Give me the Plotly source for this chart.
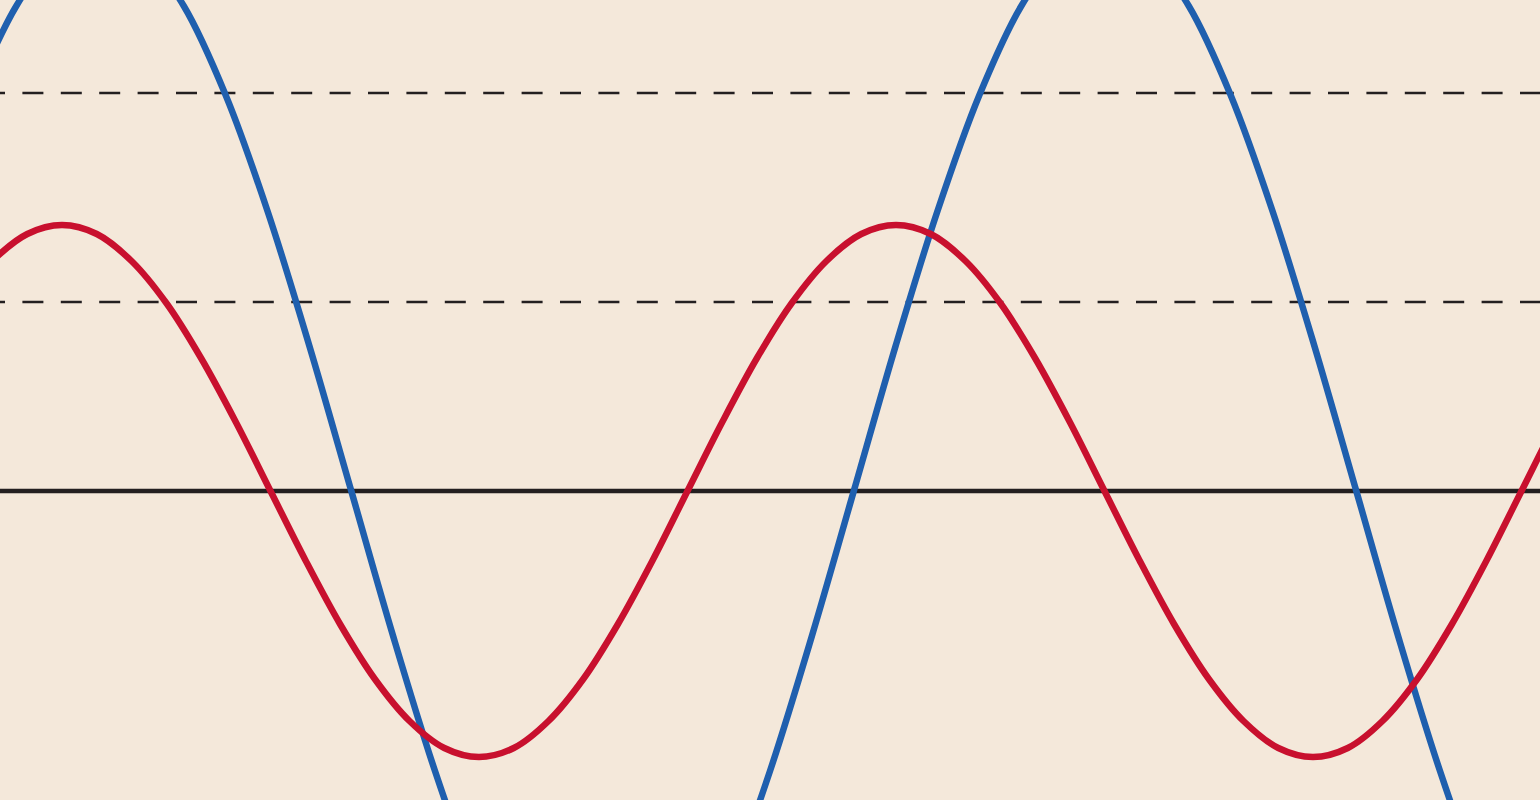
import plotly.graph_objects as go

# Values (x in hundreds of px, y relative to the zero line)
red_x = [-0.770, -0.423, -0.075, 0.273, 0.620, 0.968, 1.315, 1.663, 2.010, 2.358, 2.705,
         3.053, 3.400, 3.748, 4.095, 4.443, 4.790, 5.138, 5.485, 5.833, 6.180, 6.528,
         6.875, 7.223, 7.570, 7.918, 8.265, 8.613, 8.960, 9.308, 9.655, 10.003, 10.350,
         10.698, 11.045, 11.393, 11.740, 12.088, 12.435, 12.783, 13.130, 13.478, 13.825,
         14.173, 14.520, 14.868, 15.215, 15.563, 15.910]
red_y = [1.33, 1.88, 2.30, 2.57, 2.66, 2.57, 2.30, 1.88, 1.33, 0.69, 0.0,
         -0.69, -1.33, -1.88, -2.30, -2.57, -2.66, -2.57, -2.30, -1.88, -1.33, -0.69,
         0.0, 0.69, 1.33, 1.88, 2.30, 2.57, 2.66, 2.57, 2.30, 1.88, 1.33,
         0.69, 0.0, -0.69, -1.33, -1.88, -2.30, -2.57, -2.66, -2.57, -2.30,
         -1.88, -1.33, -0.69, 0.0, 0.69, 1.33]

blue_x = [-0.675, -0.256, 0.163, 0.581, 1.000, 1.419, 1.838, 2.256, 2.675, 3.094, 3.513,
          3.931, 4.350, 4.769, 5.188, 5.606, 6.025, 6.444, 6.863, 7.281, 7.700, 8.119,
          8.538, 8.956, 9.375, 9.794, 10.213, 10.631, 11.050, 11.469, 11.888, 12.306,
          12.725, 13.144, 13.563, 13.981, 14.400, 14.819, 15.238, 15.656, 16.075]
blue_y = [2.80, 3.96, 4.85, 5.41, 5.60, 5.41, 4.85, 3.96, 2.80, 1.45, 0.0,
          -1.45, -2.80, -3.96, -4.85, -5.41, -5.60, -5.41, -4.85, -3.96, -2.80, -1.45,
          0.0, 1.45, 2.80, 3.96, 4.85, 5.41, 5.60, 5.41, 4.85, 3.96,
          2.80, 1.45, 0.0, -1.45, -2.80, -3.96, -4.85, -5.41, -5.60]

dashed_levels = [3.98, 1.89]
zero_level = 0.0

x_min, x_max = 0.0, 15.4
y_min, y_max = -3.09, 4.91

bg = "#F4E8DA"
fig = go.Figure()

for lvl in dashed_levels:
    fig.add_trace(go.Scatter(x=[-0.16, 16.0], y=[lvl, lvl], mode="lines",
                             line=dict(color="#231F20", width=2.6, dash="21px,17.4px"),
                             hoverinfo="skip"))

fig.add_trace(go.Scatter(x=[-1, 17], y=[zero_level, zero_level], mode="lines",
                         line=dict(color="#231F20", width=4.5), hoverinfo="skip"))

fig.add_trace(go.Scatter(x=blue_x, y=blue_y, mode="lines",
                         line=dict(color="#1F5FAE", width=6.5, shape="spline", smoothing=1.0)))
fig.add_trace(go.Scatter(x=red_x, y=red_y, mode="lines",
                         line=dict(color="#C8102E", width=6.5, shape="spline", smoothing=1.0)))

fig.update_layout(
    width=1540, height=800,
    margin=dict(l=0, r=0, t=0, b=0),
    paper_bgcolor=bg, plot_bgcolor=bg,
    showlegend=False,
    xaxis=dict(range=[x_min, x_max], visible=False, fixedrange=True),
    yaxis=dict(range=[y_min, y_max], visible=False, fixedrange=True),
)

# drop the browser's default body margin so the figure fills the window
fig.write_html("out.html", config={"displayModeBar": False},
               post_script="document.body.style.margin='0';document.body.style.overflow='hidden';")
